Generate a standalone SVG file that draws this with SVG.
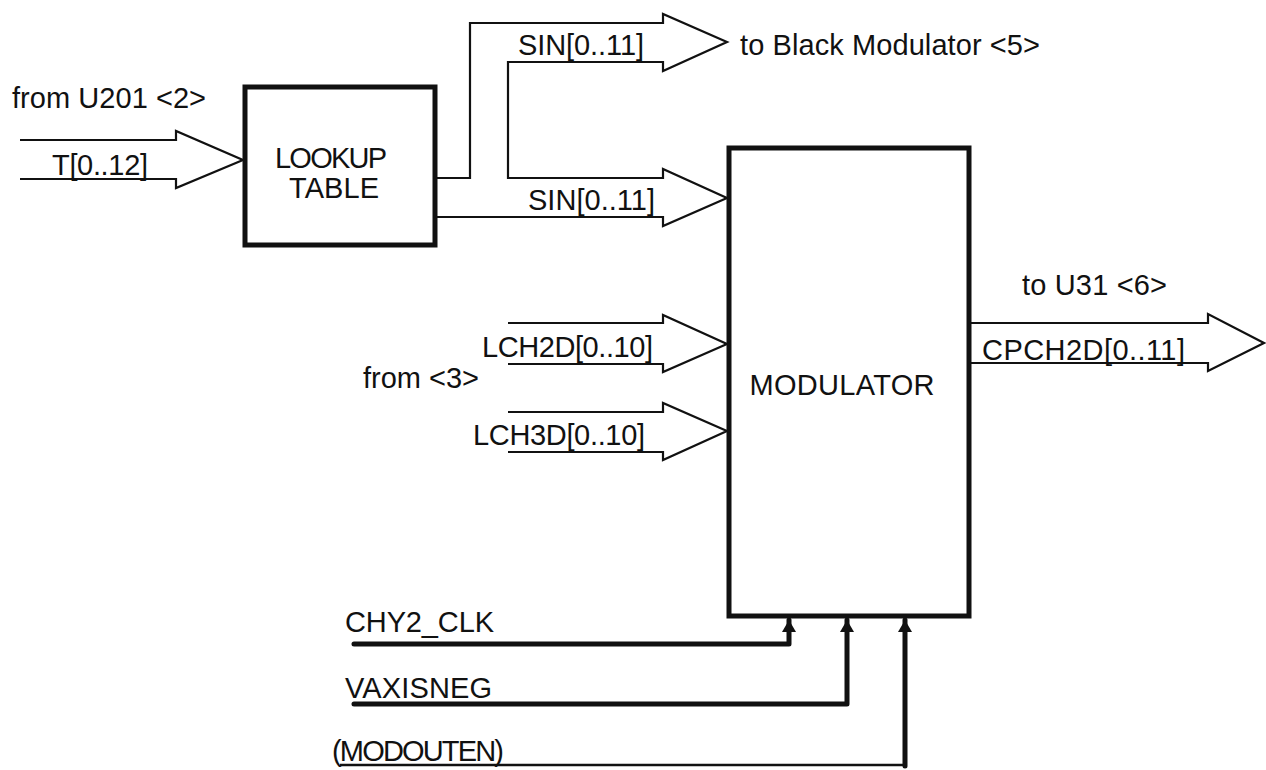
<svg xmlns="http://www.w3.org/2000/svg" width="1266" height="770" viewBox="0 0 1266 770">
<style>
text{font-family:"Liberation Sans",Arial,sans-serif;font-size:29px;fill:#111}
.bus{fill:none;stroke:#111;stroke-width:2.2;stroke-linejoin:miter}
.box{fill:#fff;stroke:#111;stroke-width:5}
.ctl{fill:none;stroke:#111;stroke-width:5;stroke-linejoin:round;stroke-linecap:round}
.ctl2{fill:none;stroke:#111;stroke-width:2.5}
</style>
<defs>
<marker id="ah" viewBox="0 0 12 14" refX="12" refY="7" markerWidth="12" markerHeight="14" markerUnits="userSpaceOnUse" orient="auto">
<path d="M0,0 L12,7 L0,14 Z" fill="#111"/>
</marker>
</defs>
<g id="connectors">
<path class="bus" d="M20,140 H176 V131 L243,160 L176,188 V179 H20"/>
<path class="bus" d="M435,178 H470 V23 H663 V14 L727,42 L663,71 V62 H508 V178 H663 V169 L727,198 L663,226 V217 H435"/>
<path class="bus" d="M508,323 H663 V315 L727,344 L663,372 V364 H508"/>
<path class="bus" d="M508,412 H663 V403 L727,431 L663,460 V452 H508"/>
<path class="bus" d="M970,323 H1208 V314 L1264,343 L1208,371 V363 H970"/>
<path class="ctl" d="M354,644 H789 V620" marker-end="url(#ah)"/>
<path class="ctl" d="M354,704 H847 V620" marker-end="url(#ah)"/>
<path class="ctl2" d="M340,765 H905"/>
<path class="ctl" d="M905,766 V620" marker-end="url(#ah)"/>
</g>
<g id="lookup">
<rect class="box" x="245" y="87" width="190" height="158"/>
<text x="331" y="168" text-anchor="middle" textLength="112">LOOKUP</text>
<text x="334" y="198" text-anchor="middle" textLength="90">TABLE</text>
</g>
<g id="modulator">
<rect class="box" x="729" y="148" width="240" height="468"/>
<text x="842" y="395" text-anchor="middle" textLength="185">MODULATOR</text>
</g>
<g id="labels">
<text x="12" y="108" textLength="194">from U201 &lt;2&gt;</text>
<text x="52" y="175" textLength="96">T[0..12]</text>
<text x="518" y="55" textLength="126">SIN[0..11]</text>
<text x="740" y="55" textLength="300">to Black Modulator &lt;5&gt;</text>
<text x="528" y="210" textLength="127">SIN[0..11]</text>
<text x="482" y="357" textLength="171">LCH2D[0..10]</text>
<text x="363" y="388" textLength="116">from &lt;3&gt;</text>
<text x="473" y="445" textLength="172">LCH3D[0..10]</text>
<text x="1022" y="295" textLength="145">to U31 &lt;6&gt;</text>
<text x="982" y="360" textLength="203">CPCH2D[0..11]</text>
<text x="345" y="632" textLength="149">CHY2_CLK</text>
<text x="345" y="698" textLength="147">VAXISNEG</text>
<text x="332" y="761" textLength="172">(MODOUTEN)</text>
</g>
</svg>
